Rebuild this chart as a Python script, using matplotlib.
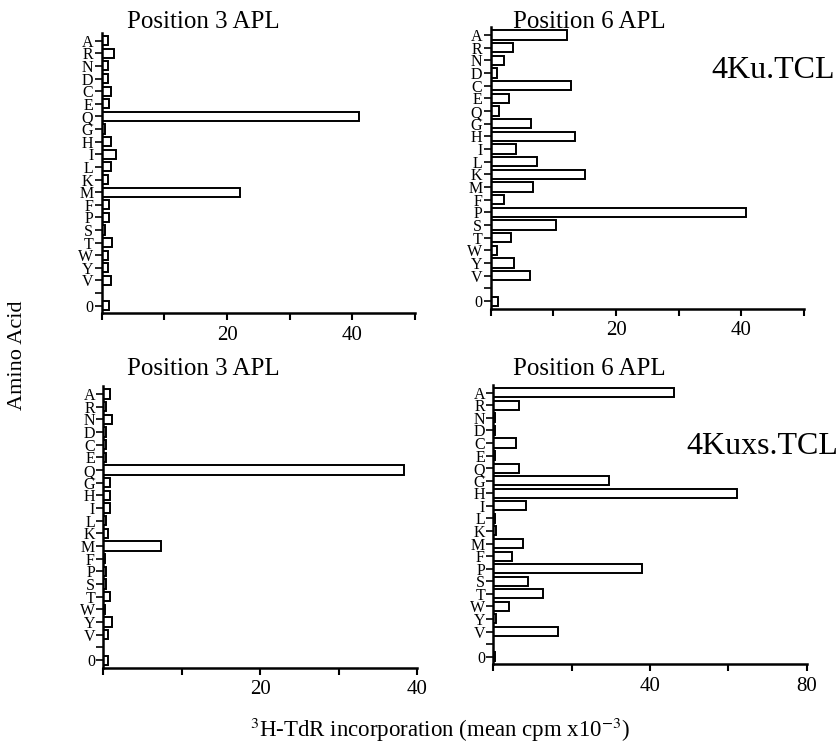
import numpy as np
import matplotlib
matplotlib.use("Agg")
import matplotlib.pyplot as plt

amino = ['A', 'R', 'N', 'D', 'C', 'E', 'Q', 'G', 'H', 'I', 'L', 'K', 'M', 'F',
         'P', 'S', 'T', 'W', 'Y', 'V', '', '0']

# 4Ku.TCL
ku_pos3 = [1.0, 2.0, 1.0, 1.0, 1.5, 1.2, 41.0, 0.6, 1.5, 2.3, 1.5, 1.0, 22.1,
           1.2, 1.2, 0.6, 1.7, 1.0, 1.0, 1.5, None, 1.2]
ku_pos6 = [12.1, 3.5, 2.2, 1.0, 12.8, 2.9, 1.4, 6.4, 13.4, 4.1, 7.4, 15.1, 6.8,
           2.2, 40.7, 10.4, 3.2, 1.0, 3.7, 6.2, None, 1.2]
# 4Kuxs.TCL
kuxs_pos3 = [0.9, 0.4, 1.1, 0.4, 0.4, 0.4, 38.3, 0.85, 0.9, 0.9, 0.3, 0.6, 7.3,
             0.2, 0.4, 0.4, 0.85, 0.2, 1.05, 0.6, None, 0.6]
kuxs_pos6 = [46.2, 6.5, 0.4, 0.4, 5.7, 0.4, 6.5, 29.5, 62.1, 8.3, 0.4, 0.7, 7.6,
             4.9, 37.9, 8.8, 12.7, 3.9, 0.7, 16.6, None, 0.4]

plt.rcParams['font.family'] = ['Liberation Serif', 'DejaVu Serif']
plt.rcParams['mathtext.fontset'] = 'stix'

W, H = 839, 747
fig = plt.figure(figsize=(W / 100, H / 100), dpi=100)


def px_axes(x0, x1, a_y, slot):
    top = a_y - 0.6 * slot
    bot = a_y + 21.6 * slot
    return fig.add_axes([x0 / W, 1 - bot / H, (x1 - x0) / W, (bot - top) / H])


def panel(ax, vals, xmax, xticks, xlabels):
    pos = np.arange(len(amino))
    for p, v in zip(pos, vals):
        if v is None:
            continue
        ax.barh(p, v, height=0.72, color='white', edgecolor='black', linewidth=1.4)
    ax.set_ylim(21.6, -0.6)
    ax.set_xlim(0, xmax)
    ax.set_yticks(pos)
    ax.set_yticklabels(amino, fontsize=11.5)
    ax.set_xticks(xticks)
    ax.set_xticklabels(xlabels, fontsize=15)
    for s in ['top', 'right']:
        ax.spines[s].set_visible(False)
    for s in ['left', 'bottom']:
        ax.spines[s].set_linewidth(1.8)
    ax.tick_params(axis='y', length=5, width=1.2, pad=1)
    ax.tick_params(axis='x', length=5, width=1.5, pad=4)


ax1 = px_axes(101.7, 415, 40.7, 12.62)
panel(ax1, ku_pos3, 50, [0, 10, 20, 30, 40, 50], ['', '', '20', '', '40', ''])
ax2 = px_axes(490.7, 804, 35, 12.67)
panel(ax2, ku_pos6, 50, [0, 10, 20, 30, 40, 50], ['', '', '20', '', '40', ''])
ax3 = px_axes(103.3, 417.3, 394, 12.67)
panel(ax3, kuxs_pos3, 40, [0, 10, 20, 30, 40], ['', '', '20', '', '40'])
ax4 = px_axes(493.3, 806.7, 392.7, 12.57)
panel(ax4, kuxs_pos6, 80, [0, 20, 40, 60, 80], ['', '', '40', '', '80'])

# panel titles
fig.text(203 / W, 1 - 22 / H, 'Position 3 APL', fontsize=18, ha='center', va='center')
fig.text(589 / W, 1 - 22 / H, 'Position 6 APL', fontsize=18, ha='center', va='center')
fig.text(203 / W, 1 - 369 / H, 'Position 3 APL', fontsize=18, ha='center', va='center')
fig.text(589 / W, 1 - 369 / H, 'Position 6 APL', fontsize=18, ha='center', va='center')

fig.text(773 / W, 1 - 70 / H, '4Ku.TCL', fontsize=23, ha='center', va='center')
fig.text(762 / W, 1 - 446 / H, '4Kuxs.TCL', fontsize=23, ha='center', va='center')
fig.text(18 / W, 1 - 355 / H, 'Amino Acid', fontsize=16, rotation=90,
         ha='center', va='center')
fig.text(440 / W, 1 - 730 / H,
         r'$^{3}$H-TdR incorporation (mean cpm x10$^{-3}$)',
         fontsize=16.5, ha='center', va='center')

fig.savefig('out.png', dpi=100)
